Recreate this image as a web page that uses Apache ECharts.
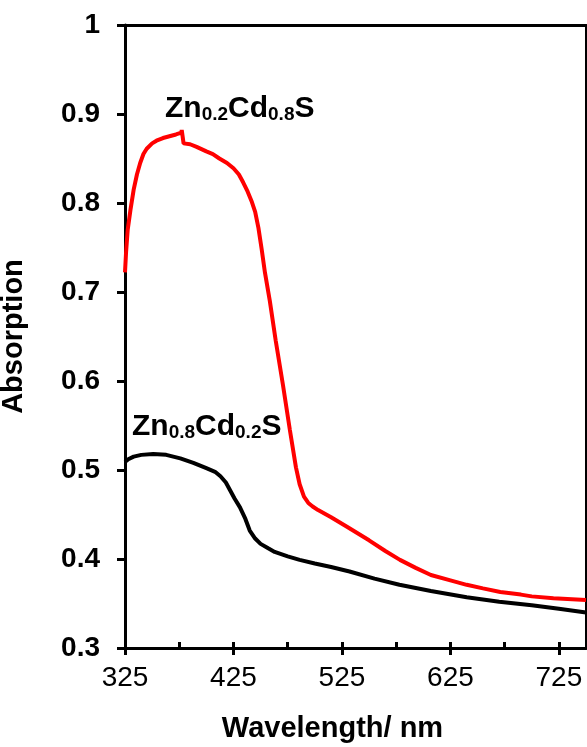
<!DOCTYPE html>
<html>
<head>
<meta charset="utf-8">
<script src="https://cdn.jsdelivr.net/npm/echarts@6/dist/echarts.min.js"></script>
<style>
html,body{margin:0;padding:0;background:#fff;}
#chart{width:587px;height:747px;}
</style>
</head>
<body>
<div id="chart"></div>
<script>
// Zn0.2Cd0.8S (red)
const redWavelength = [325,326,327.5,330,333,336,339,342,345,350,354,360,366,372,377,377.3,378.6,379,385,391,400,406,412,419,425,430,434,438,442,445,448,451,454,458.5,464,470.7,477,482.6,486,490,494,498,503,515,530,550,565,578.5,593,607,625,640,655,671,690,700,720,750];
const redAbsorption = [0.722,0.745,0.77,0.792,0.815,0.832,0.845,0.855,0.861,0.867,0.870,0.873,0.875,0.877,0.879,0.882,0.882,0.867,0.866,0.863,0.858,0.855,0.850,0.845,0.839,0.832,0.823,0.813,0.801,0.790,0.772,0.748,0.722,0.690,0.645,0.595,0.545,0.503,0.484,0.470,0.463,0.459,0.455,0.447,0.436,0.421,0.409,0.399,0.390,0.382,0.376,0.371,0.367,0.363,0.360,0.358,0.356,0.354];
// Zn0.8Cd0.2S (black)
const blackWavelength = [325,328,333,340,351,363,376,388,400,408,413,418,422,426,431,436,440,445,450,457,463,475,486,500,515,532,555,578,607,640,670,700,725,750];
const blackAbsorption = [0.509,0.512,0.515,0.517,0.518,0.517,0.513,0.508,0.502,0.498,0.493,0.486,0.477,0.468,0.458,0.445,0.432,0.423,0.417,0.412,0.408,0.403,0.399,0.395,0.391,0.386,0.378,0.371,0.364,0.357,0.352,0.348,0.344,0.340];
// ticks
const xMajorTicks = [325,425,525,625,725];
const xAllTicks = [325,375,425,475,525,575,625,675,725];

const FONT = '"Liberation Sans", Arial, sans-serif';
const pairs = (xs, ys) => xs.map((x, i) => [x, ys[i]]);

const chart = echarts.init(document.getElementById('chart'), null, {renderer: 'canvas'});
const lab = {
  b: {fontSize: 30, fontWeight: 'bold', fontFamily: FONT, color: '#000', lineHeight: 34, verticalAlign: 'bottom'},
  s: {fontSize: 19, fontWeight: 'bold', fontFamily: FONT, color: '#000', lineHeight: 13, verticalAlign: 'bottom'}
};
chart.setOption({
  animation: false,
  backgroundColor: '#fff',
  grid: {left: 125, right: 1, top: 25, bottom: 99, containLabel: false, outerBoundsMode: 'none'},
  xAxis: [
    {
      type: 'value', min: 325, max: 750, position: 'bottom',
      axisLine: {show: true, lineStyle: {color: '#000', width: 3}},
      axisTick: {show: true, customValues: xMajorTicks, inside: false, length: 7, lineStyle: {color: '#000', width: 3}},
      axisLabel: {show: true, customValues: xMajorTicks, color: '#000', fontSize: 28, fontFamily: FONT, margin: 16},
      splitLine: {show: false},
      name: 'Wavelength/ nm', nameLocation: 'middle', nameGap: 66,
      nameTextStyle: {color: '#000', fontSize: 29, fontWeight: 'bold', fontFamily: FONT, padding: [0, 46, 0, 0]}
    },
    {
      type: 'value', min: 325, max: 750, position: 'bottom',
      axisLine: {show: false},
      axisTick: {show: true, customValues: xAllTicks, inside: true, length: 6, lineStyle: {color: '#000', width: 3}},
      axisLabel: {show: false},
      splitLine: {show: false}
    },
    {
      type: 'value', min: 325, max: 750, position: 'top',
      axisLine: {show: true, lineStyle: {color: '#000', width: 3}},
      axisTick: {show: false}, axisLabel: {show: false}, splitLine: {show: false}
    }
  ],
  yAxis: [
    {
      type: 'value', min: 0.3, max: 1, interval: 0.1, position: 'left',
      axisLine: {show: true, lineStyle: {color: '#000', width: 3}},
      axisTick: {show: true, inside: false, length: 8, lineStyle: {color: '#000', width: 3}},
      axisLabel: {color: '#000', fontSize: 28, fontWeight: 'bold', fontFamily: FONT, margin: 25,
        formatter: v => String(Math.round(v * 10) / 10)},
      splitLine: {show: false},
      name: 'Absorption', nameLocation: 'middle', nameGap: 97, nameRotate: 90,
      nameTextStyle: {color: '#000', fontSize: 29, fontWeight: 'bold', fontFamily: FONT}
    },
    {
      type: 'value', min: 0.3, max: 1, position: 'right',
      axisLine: {show: true, lineStyle: {color: '#000', width: 2}},
      axisTick: {show: false}, axisLabel: {show: false}, splitLine: {show: false}
    }
  ],
  series: [
    {
      type: 'line', name: 'Zn0.8Cd0.2S', xAxisIndex: 0, yAxisIndex: 0,
      data: pairs(blackWavelength, blackAbsorption),
      showSymbol: false, smooth: false,
      lineStyle: {color: '#000', width: 4}, z: 3
    },
    {
      type: 'line', name: 'Zn0.2Cd0.8S', xAxisIndex: 0, yAxisIndex: 0,
      data: pairs(redWavelength, redAbsorption),
      showSymbol: false, smooth: false,
      lineStyle: {color: '#ff0000', width: 4}, z: 4
    }
  ],
  graphic: [
    {type: 'text', left: 165, top: 94, style: {text: '{b|Zn}{s|0.2}{b|Cd}{s|0.8}{b|S}', rich: lab}},
    {type: 'text', left: 132, top: 412, style: {text: '{b|Zn}{s|0.8}{b|Cd}{s|0.2}{b|S}', rich: lab}}
  ]
});
</script>
</body>
</html>
